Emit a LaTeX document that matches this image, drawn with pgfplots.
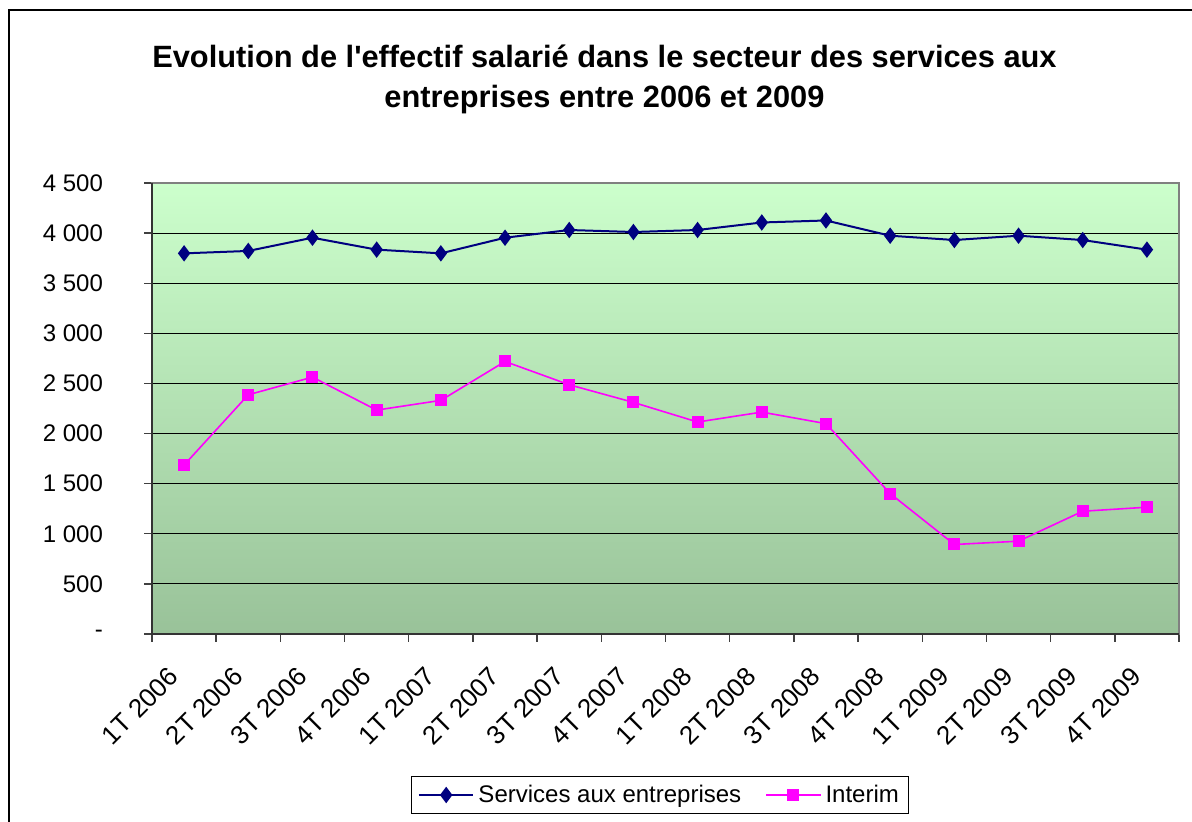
\documentclass[border=0pt]{standalone}
\usepackage{pgfplots}
\pgfplotsset{compat=1.18}
\usepackage{fontspec}
\setmainfont{Liberation Sans}
\definecolor{navyS}{RGB}{0,0,128}
\definecolor{magI}{RGB}{255,0,255}
\definecolor{bgtop}{RGB}{204,255,204}
\definecolor{bgbot}{RGB}{153,194,153}
\begin{document}
\begin{tikzpicture}
\useasboundingbox (-76pt,-94pt) rectangle (520pt,317pt);
\draw[black, line width=0.7pt] (-71.5pt,-95pt) -- (-71.5pt,312pt) -- (521pt,312pt);
\node[font=\bfseries\fontsize{15.4}{20}\selectfont, align=center] at (226.25pt,277.5pt)
  {Evolution de l\textquotesingle effectif salarié dans le secteur des services aux\\entreprises entre 2006 et 2009};
\begin{axis}[
  at={(0pt,0pt)}, anchor=south west, scale only axis,
  width=513.5pt, height=225.5pt,
  xmin=0, xmax=16, ymin=0, ymax=4500,
  xtick={0,...,16}, x tick label as interval,
  xticklabels={1T 2006,2T 2006,3T 2006,4T 2006,1T 2007,2T 2007,3T 2007,4T 2007,1T 2008,2T 2008,3T 2008,4T 2008,1T 2009,2T 2009,3T 2009,4T 2009},
  ytick={0,500,...,4500},
  yticklabels={-,500,1 000,1 500,2 000,2 500,3 000,3 500,4 000,4 500},
  xtick pos=left, ytick pos=left,
  tick align=outside, major tick length=4pt,
  tick style={black!75, line width=0.7pt},
  ymajorgrids, grid style={black, line width=0.6pt},
  axis line style={black!50, line width=0.7pt},
  axis background/.style={top color=bgtop, bottom color=bgbot},
  yticklabel style={font=\fontsize{12}{14}\selectfont, xshift=-17pt},
  xticklabel style={font=\fontsize{13}{15}\selectfont, xshift=-5pt, yshift=-15pt, rotate=45, anchor=east, inner sep=0pt},
  legend style={at={(0.495,-0.357)}, anchor=center, draw=black, line width=0.6pt,
    font=\fontsize{12}{14}\selectfont, legend columns=2,
    /tikz/every even column/.append style={column sep=10pt}},
  legend image code/.code={\draw[mark repeat=2,mark phase=2,#1] plot coordinates {(0cm,0cm) (0.48cm,0cm) (0.96cm,0cm)};},
]
\addplot[navyS, line width=1pt, mark=diamond*, mark size=3.3pt, mark options={solid, fill=navyS}] coordinates {
(0.5,3798) (1.5,3822) (2.5,3954) (3.5,3835) (4.5,3798) (5.5,3954) (6.5,4031) (7.5,4011)
(8.5,4031) (9.5,4106) (10.5,4126) (11.5,3974) (12.5,3931) (13.5,3974) (14.5,3931) (15.5,3835)};
\addlegendentry{Services aux entreprises}
\addplot[magI, line width=0.8pt, mark=square*, mark size=2.6pt, mark options={solid, fill=magI}] coordinates {
(0.5,1686) (1.5,2387) (2.5,2563) (3.5,2234) (4.5,2331) (5.5,2719) (6.5,2487) (7.5,2311)
(8.5,2115) (9.5,2214) (10.5,2099) (11.5,1401) (12.5,893) (13.5,926) (14.5,1225) (15.5,1265)};
\addlegendentry{Interim}
\end{axis}
\draw[black!80, line width=0.9pt] (0pt,225.5pt) -- (0pt,0pt) -- (513.5pt,0pt);
\end{tikzpicture}
\end{document}
